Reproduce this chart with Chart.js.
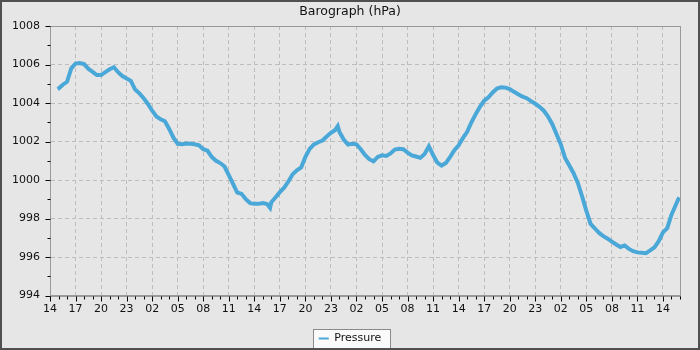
<!DOCTYPE html>
<html>
<head>
<meta charset="utf-8">
<title>Barograph (hPa)</title>
<script src="https://cdn.jsdelivr.net/npm/chart.js@4.4.1/dist/chart.umd.min.js"></script>
<style>
  html, body { margin: 0; padding: 0; background: #e6e6e6; }
  canvas { display: block; }
</style>
</head>
<body>
<canvas id="baroChart" width="700" height="350"></canvas>
<script>
/* ───────── datos ───────── */
// horas desde el inicio del eje (14:00 del primer día)
const xTickLabels = ["14", "17", "20", "23", "02", "05", "08", "11", "14",
                     "17", "20", "23", "02", "05", "08", "11", "14",
                     "17", "20", "23", "02", "05", "08", "11", "14"];

const hours = [
  0.9, 1, 1.5, 2, 2.5, 3, 3.5, 4, 4.5, 5, 5.5, 6, 6.5, 7, 7.5, 8, 8.5, 9, 9.5,
  10, 10.5, 11, 11.5, 12, 12.5, 13, 13.5, 14, 14.5, 15, 15.5, 16, 16.5, 17, 17.5,
  18, 18.5, 19, 19.5, 20, 20.5, 21, 21.5, 22, 22.5, 23, 23.5, 24, 24.5, 25, 25.5,
  25.85, 26, 26.5, 27, 27.5, 28, 28.5, 29, 29.5, 30, 30.5, 31, 31.5, 32, 32.5, 33,
  33.5, 33.8, 34, 34.5, 35, 35.5, 36, 36.5, 37, 37.5, 38, 38.5, 39, 39.5, 40, 40.5,
  41, 41.5, 42, 42.5, 43, 43.5, 44, 44.5, 45, 45.5, 46, 46.5, 47, 47.5, 48, 48.5,
  49, 49.5, 50, 50.5, 51, 51.5, 52, 52.5, 53, 53.5, 54, 54.5, 55, 55.5, 56, 56.5,
  57, 57.5, 58, 58.5, 59, 59.5, 60, 60.5, 61, 61.5, 62, 62.5, 63, 63.5, 64, 64.5,
  65, 65.5, 66, 66.5, 67, 67.5, 68, 68.5, 69, 69.5, 70, 70.5, 71, 71.5, 72, 72.5,
  73, 73.5, 73.9
];

const pressure = [
  1004.72, 1004.75, 1004.95, 1005.1, 1005.8, 1006.05, 1006.08, 1006.02, 1005.78,
  1005.62, 1005.45, 1005.45, 1005.6, 1005.75, 1005.86, 1005.6, 1005.4, 1005.27,
  1005.15, 1004.7, 1004.5, 1004.25, 1003.95, 1003.6, 1003.3, 1003.15, 1003.05,
  1002.65, 1002.2, 1001.88, 1001.86, 1001.9, 1001.88, 1001.86, 1001.8, 1001.6,
  1001.52, 1001.2, 1001.0, 1000.88, 1000.7, 1000.25, 999.8, 999.35, 999.28, 999.0,
  998.8, 998.76, 998.76, 998.8, 998.75, 998.55, 998.85, 999.1, 999.37, 999.6,
  999.92, 1000.3, 1000.5, 1000.65, 1001.2, 1001.62, 1001.85, 1001.96, 1002.05,
  1002.26, 1002.45, 1002.6, 1002.8, 1002.5, 1002.1, 1001.84, 1001.88, 1001.85,
  1001.6, 1001.3, 1001.08, 1000.97, 1001.2, 1001.28, 1001.25, 1001.38, 1001.58,
  1001.62, 1001.6, 1001.42, 1001.28, 1001.22, 1001.15, 1001.35, 1001.75, 1001.3,
  1000.9, 1000.75, 1000.88, 1001.2, 1001.55, 1001.8, 1002.18, 1002.5, 1003.0,
  1003.42, 1003.8, 1004.12, 1004.3, 1004.55, 1004.75, 1004.82, 1004.8, 1004.72,
  1004.58, 1004.45, 1004.33, 1004.25, 1004.1, 1003.96, 1003.8, 1003.6, 1003.3,
  1002.9, 1002.38, 1001.85, 1001.15, 1000.75, 1000.35, 999.85, 999.15, 998.4,
  997.72, 997.48, 997.25, 997.08, 996.95, 996.8, 996.65, 996.52, 996.6, 996.42,
  996.3, 996.24, 996.22, 996.2, 996.34, 996.5, 996.82, 997.28, 997.5, 998.2,
  998.7, 999.1
];

/* ───────── estilos ───────── */
const BG_COLOR    = "#e6e6e6";
const FRAME_COLOR = "#505050";
const AXIS_COLOR  = "#999999";
const GRID_COLOR  = "#bdbdbd";
const LINE_COLOR  = "#4aa8d8";
const FONT_FAMILY = "'DejaVu Sans', Verdana, sans-serif";

/* marco, caja de leyenda y marcas de los ejes */
const baroFrame = {
  id: "baroFrame",
  beforeDraw(chart) {
    const { ctx, width, height } = chart;
    ctx.save();
    ctx.fillStyle = BG_COLOR;
    ctx.fillRect(0, 0, width, height);

    const hb = chart.legend && chart.legend.legendHitBoxes[0];
    if (hb) {
      ctx.fillStyle = "#fafafa";
      ctx.strokeStyle = "#8a8a8a";
      ctx.lineWidth = 1;
      const x = Math.round(hb.left - 6) + 0.5;
      const y = Math.round(hb.top - 4) + 0.5;
      const w = Math.round(hb.width + 15);
      const h = Math.round(hb.height + 8);
      ctx.fillRect(x, y, w, h);
      ctx.strokeRect(x, y, w, h);
    }
    ctx.restore();
  },
  afterDraw(chart) {
    const { ctx, width, height, chartArea: area } = chart;
    const xs = chart.scales.x;
    const ys = chart.scales.y;
    ctx.save();

    // recuadro del área de trazado
    ctx.strokeStyle = AXIS_COLOR;
    ctx.lineWidth = 1;
    ctx.strokeRect(Math.round(area.left) + 0.5, Math.round(area.top) + 0.5,
                   Math.round(area.right - area.left), Math.round(area.bottom - area.top));

    // marcas: mayores cada 3 h / 2 hPa, menores el resto
    ctx.strokeStyle = "#000";
    ctx.beginPath();
    const bottom = Math.round(area.bottom) + 0.5;
    xs.ticks.forEach(t => {
      const px = Math.round(xs.getPixelForValue(t.value)) + 0.5;
      const len = t.value % 3 === 0 ? 5 : 3;
      ctx.moveTo(px, bottom);
      ctx.lineTo(px, bottom + len);
    });
    const left = Math.round(area.left) + 0.5;
    ys.ticks.forEach(t => {
      const py = Math.round(ys.getPixelForValue(t.value)) + 0.5;
      const len = t.value % 2 === 0 ? 5 : 3;
      ctx.moveTo(left, py);
      ctx.lineTo(left - len, py);
    });
    ctx.stroke();

    // marco exterior oscuro
    ctx.strokeStyle = FRAME_COLOR;
    ctx.lineWidth = 2;
    ctx.strokeRect(1, 1, width - 2, height - 2);
    ctx.restore();
  }
};

/* ───────── gráfico ───────── */
const ctx = document.getElementById("baroChart").getContext("2d");
new Chart(ctx, {
  type: "line",
  data: {
    datasets: [{
      label: "Pressure",
      data: hours.map((h, i) => ({ x: h, y: pressure[i] })),
      borderColor: LINE_COLOR,
      backgroundColor: LINE_COLOR,
      borderWidth: 4,
      pointRadius: 0,
      tension: 0,
      fill: false
    }]
  },
  options: {
    responsive: false,
    animation: false,
    layout: { padding: { left: 2, right: 2, top: 2, bottom: -4 } },
    scales: {
      x: {
        type: "linear",
        min: 0,
        max: 74,
        afterFit: scale => { scale.height = 32.5; },
        border: { display: true, color: AXIS_COLOR, dash: [4, 3] },
        grid: {
          drawTicks: false,
          color: c => (c.tick && c.tick.value % 3 === 0) ? GRID_COLOR : "rgba(0,0,0,0)"
        },
        ticks: {
          stepSize: 1,
          autoSkip: false,
          maxRotation: 0,
          padding: 7,
          color: "#111",
          font: { family: FONT_FAMILY, size: 11 },
          callback: v => (v % 3 === 0 ? xTickLabels[v / 3] : "")
        }
      },
      y: {
        min: 994,
        max: 1008,
        afterFit: scale => { scale.width = 48; },
        border: { display: true, color: AXIS_COLOR, dash: [4, 3] },
        grid: {
          drawTicks: false,
          color: c => (c.tick && c.tick.value % 2 === 0) ? GRID_COLOR : "rgba(0,0,0,0)"
        },
        ticks: {
          stepSize: 1,
          autoSkip: false,
          padding: 10,
          color: "#111",
          font: { family: FONT_FAMILY, size: 11 },
          callback: v => (v % 2 === 0 ? String(v) : "")
        }
      },
      // eje vacío a la derecha solo para dejar el margen
      yRight: {
        position: "right",
        afterFit: scale => { scale.width = 18; },
        grid: { display: false },
        border: { display: false },
        ticks: { display: false }
      }
    },
    plugins: {
      title: {
        display: true,
        text: "Barograph (hPa)",
        color: "#111",
        font: { family: FONT_FAMILY, size: 12.5, weight: "normal" },
        padding: { top: 2, bottom: 7 }
      },
      legend: {
        display: true,
        position: "bottom",
        labels: {
          boxWidth: 10,
          boxHeight: 2,
          padding: 5,
          color: "#111",
          font: { family: FONT_FAMILY, size: 11 },
          generateLabels: chart =>
            Chart.defaults.plugins.legend.labels.generateLabels(chart)
              .map(l => ({ ...l, strokeStyle: "rgba(0,0,0,0)" }))
        }
      },
      tooltip: { enabled: false }
    }
  },
  plugins: [baroFrame]
});
</script>
</body>
</html>
